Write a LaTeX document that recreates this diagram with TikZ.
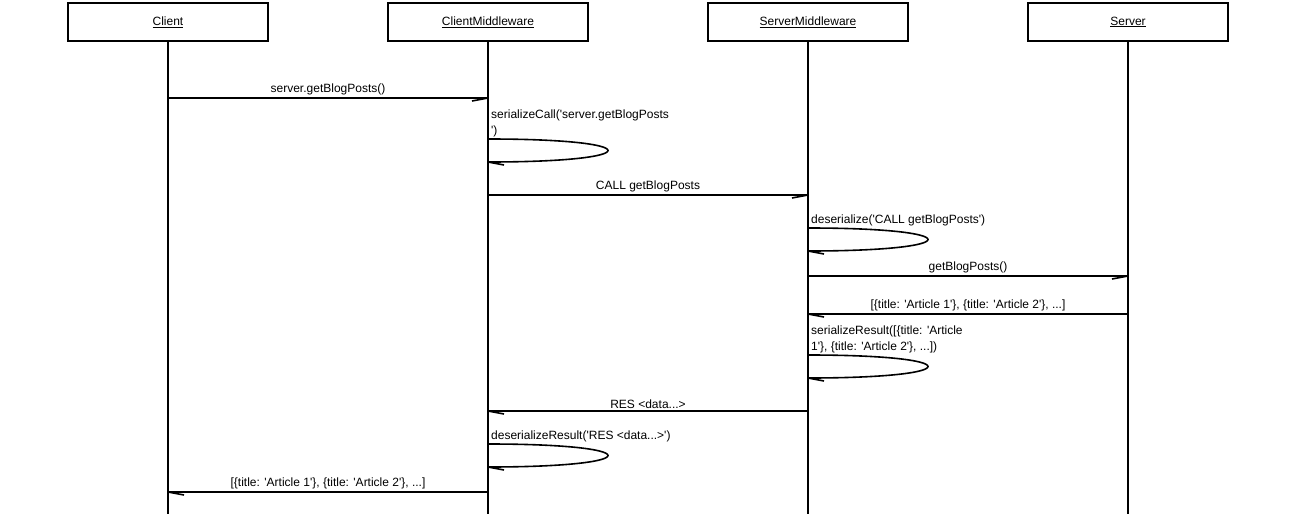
\documentclass[tikz,border=0pt]{standalone}
\usepackage{fontspec}
\setmainfont{Liberation Sans}[Ligatures=TeXOff]
\tikzset{
  actor/.style={draw, line width=1.6pt, minimum width=200pt, minimum height=38pt,
    inner sep=0pt, font=\fontsize{12}{14}\selectfont},
  life/.style={line width=1.6pt},
  lbl/.style={above, inner sep=2pt, font=\fontsize{12}{14}\selectfont},
  note/.style={anchor=south west, inner xsep=3pt, inner ysep=1.5pt, align=left, font=\fontsize{12}{16}\selectfont}
}
% one-sided barbs at the end of a message
\newcommand\tipr[1]{\draw[life] ([shift={(-16,3)}]#1) -- (#1);}
\newcommand\tipl[1]{\draw[life] ([shift={(16,3)}]#1) -- (#1);}
\begin{document}
\begin{tikzpicture}[x=1pt, y=-1pt]
    \useasboundingbox (0,0) rectangle (1296,514);
    % lifelines
    \node[actor] (cl) at (168,22) {\underline{Client}};
    \node[actor] (cm) at (488,22) {\underline{ClientMiddleware}};
    \node[actor] (sm) at (808,22) {\underline{ServerMiddleware}};
    \node[actor] (sv) at (1128,22) {\underline{Server}};
    \foreach \n in {cl,cm,sm,sv}
      \draw[life] (\n.south) -- (\n.south |- 0,514);
    % call
    \coordinate (a1) at (cl |- 0,98); \coordinate (b1) at (cm |- 0,98);
    \draw[life] (a1) -- node[lbl] {server.getBlogPosts()} (b1); \tipr{b1}
    \coordinate (a2) at (cm |- 0,139); \coordinate (b2) at (cm |- 0,162);
    \node[note] (n2) at (a2) {serializeCall('server.getBlogPosts\\')};
    \draw[life] (a2) .. controls +(160,0) and +(160,0) .. (b2); \tipl{b2}
    \coordinate (a3) at (cm |- 0,195); \coordinate (b3) at (sm |- 0,195);
    \draw[life] (a3) -- node[lbl] {CALL getBlogPosts} (b3); \tipr{b3}
    \coordinate (a4) at (sm |- 0,228); \coordinate (b4) at (sm |- 0,251);
    \node[note] (n4) at (a4) {deserialize('CALL getBlogPosts')};
    \draw[life] (a4) .. controls +(160,0) and +(160,0) .. (b4); \tipl{b4}
    \coordinate (a5) at (sm |- 0,276); \coordinate (b5) at (sv |- 0,276);
    \draw[life] (a5) -- node[lbl] {getBlogPosts()} (b5); \tipr{b5}
    % result
    \coordinate (a6) at (sv |- 0,314); \coordinate (b6) at (sm |- 0,314);
    \draw[life] (a6) -- node[lbl] {[\{title: 'Article 1'\}, \{title: 'Article 2'\}, ...]} (b6); \tipl{b6}
    \coordinate (a7) at (sm |- 0,355); \coordinate (b7) at (sm |- 0,378);
    \node[note] (n7) at (a7) {serializeResult([\{title: 'Article\\1'\}, \{title: 'Article 2'\}, ...])};
    \draw[life] (a7) .. controls +(160,0) and +(160,0) .. (b7); \tipl{b7}
    \coordinate (a8) at (sm |- 0,411); \coordinate (b8) at (cm |- 0,411);
    \draw[life] (a8) -- node[lbl] {RES <data...>} (b8); \tipl{b8}
    \coordinate (a9) at (cm |- 0,444); \coordinate (b9) at (cm |- 0,467);
    \node[note] (n9) at (a9) {deserializeResult('RES <data...>')};
    \draw[life] (a9) .. controls +(160,0) and +(160,0) .. (b9); \tipl{b9}
    \coordinate (a10) at (cm |- 0,492); \coordinate (b10) at (cl |- 0,492);
    \draw[life] (a10) -- node[lbl] {[\{title: 'Article 1'\}, \{title: 'Article 2'\}, ...]} (b10); \tipl{b10}
\end{tikzpicture}
\end{document}
